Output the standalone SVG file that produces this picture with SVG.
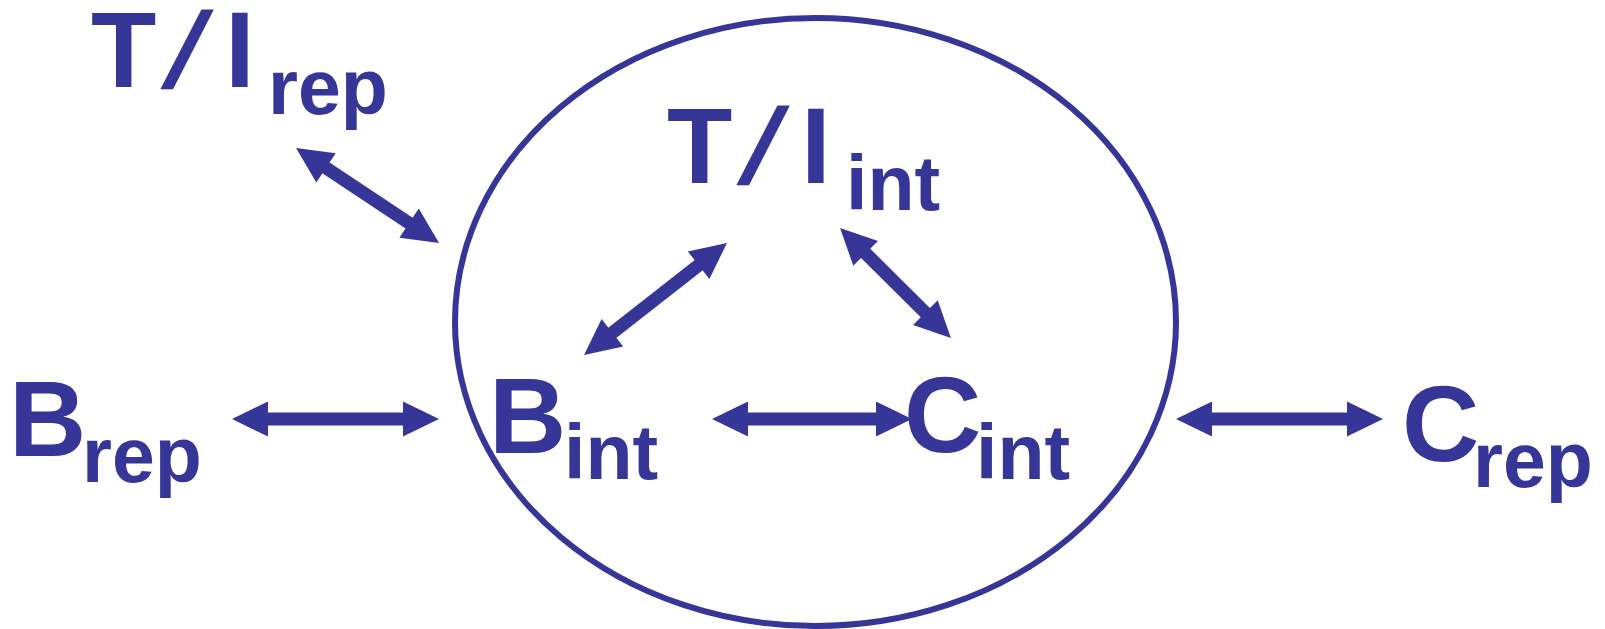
<svg xmlns="http://www.w3.org/2000/svg" width="1605" height="629" viewBox="0 0 1605 629">
  <style>
    .big { font-family: "Liberation Sans", Arial, sans-serif; font-weight: bold; font-size: 107px; fill: #363699; }
    .sub { font-family: "Liberation Sans", Arial, sans-serif; font-weight: bold; font-size: 77px; fill: #363699; }
    .conn { stroke: #363699; stroke-width: 13; fill: none; }
    .boundary { stroke: #363699; stroke-width: 6; fill: none; }
  </style>
  <defs>
    <marker id="head" viewBox="-2 -18 38 36" refX="0" refY="0" markerUnits="userSpaceOnUse" markerWidth="38" markerHeight="36" orient="auto-start-reverse">
      <path d="M-1,-17.5 L35,0 L-1,17.5 Z" fill="#363699"/>
    </marker>
  </defs>
  <rect width="1605" height="629" fill="#ffffff"/>

  <ellipse id="boundary" class="boundary" cx="815.5" cy="322" rx="360.5" ry="304"/>

  <g id="TIrep">
    <text class="big" y="87"><tspan x="91">T</tspan><tspan x="225">I</tspan></text>
    <text class="big" transform="translate(160,87) skewX(-18)" x="0" y="0">/</text>
    <text class="sub" x="268" y="114">rep</text>
  </g>

  <g id="TIint">
    <text class="big" y="183"><tspan x="667">T</tspan><tspan x="801">I</tspan></text>
    <text class="big" transform="translate(736,183) skewX(-18)" x="0" y="0">/</text>
    <text class="sub" x="846" y="210">int</text>
  </g>

  <g id="Brep">
    <text class="big" x="9" y="456">B</text>
    <text class="sub" x="82" y="482">rep</text>
  </g>

  <g id="Bint">
    <text class="big" x="489" y="453">B</text>
    <text class="sub" x="564" y="479">int</text>
  </g>

  <g id="Cint">
    <text class="big" x="904" y="452">C</text>
    <text class="sub" x="976" y="479">int</text>
  </g>

  <g id="Crep">
    <text class="big" x="1402" y="461">C</text>
    <text class="sub" x="1473" y="487">rep</text>
  </g>

  <g id="connectors" class="conn" marker-start="url(#head)" marker-end="url(#head)">
    <line x1="267" y1="419" x2="404" y2="419" marker-start="url(#head)" marker-end="url(#head)"/>
    <line x1="747" y1="419" x2="877" y2="419" marker-start="url(#head)" marker-end="url(#head)"/>
    <line x1="1211" y1="419" x2="1348" y2="419" marker-start="url(#head)" marker-end="url(#head)"/>
    <line x1="325.2" y1="167.4" x2="409.9" y2="223.6" marker-start="url(#head)" marker-end="url(#head)"/>
    <line x1="611.6" y1="333.4" x2="699.4" y2="264.6" marker-start="url(#head)" marker-end="url(#head)"/>
    <line x1="864.9" y1="252.6" x2="926.1" y2="313.4" marker-start="url(#head)" marker-end="url(#head)"/>
  </g>
</svg>
